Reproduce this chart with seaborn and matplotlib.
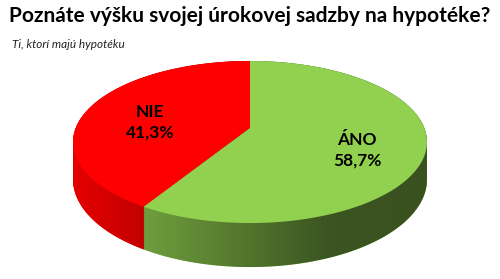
import numpy as np
import matplotlib
matplotlib.use("Agg")
import matplotlib.pyplot as plt
import matplotlib.transforms as mtransforms
import seaborn as sns
from matplotlib.path import Path
from matplotlib.patches import PathPatch

# ---- data ----
categories = ["NIE", "ÁNO"]
values = [41.3, 58.7]
value_labels = ["41,3%", "58,7%"]
title = "Poznáte výšku svojej úrokovej sadzby na hypotéke?"
subtitle = "Ti, ktorí majú hypotéku"

# ---- style ----
sns.set_theme(style="white")
plt.rcParams["font.family"] = ["Lato", "DejaVu Sans"]
top_colors = ["#FF0000", "#92D050"]

W, H = 500, 279
fig = plt.figure(figsize=(W / 100, H / 100), dpi=100)
ax = fig.add_axes([0, 0, 1, 1])

# perspective view of the disc (pixel units, y up)
CX, CY = 250.0, H - 128.0
A, B, K, DZ = 174.3, 78.6, 0.173, 36.4


class Persp(mtransforms.Transform):
    """Tilted-disc perspective: unit circle -> 3D-looking ellipse."""
    input_dims = output_dims = 2
    is_separable = False
    has_inverse = False

    def __init__(self, t=0.0):
        super().__init__()
        self.t = t

    def transform_non_affine(self, xy):
        xy = np.asarray(xy, dtype=float)
        u, v = xy[:, 0], xy[:, 1]
        w = 1.0 + K * v
        x = CX + A * u / w
        y = CY + B * v / w - self.t * DZ / w
        return np.column_stack([x, y])

    def transform_path_non_affine(self, path):
        pts = []
        for seg, code in path.iter_bezier():
            if seg.degree < 1:
                pts.append(np.asarray(seg.control_points))
            elif seg.degree == 1:
                pts.append(np.asarray(seg.control_points)[1:])
            else:
                pts.append(seg(np.linspace(0, 1, 24))[1:])
        pts = np.vstack(pts)
        pts = np.vstack([pts, pts[:1]])
        return Path(self.transform_non_affine(pts), closed=True)


# side of the cylinder (stacked layers, bottom first)
n_layers = 80
for t in np.linspace(1.0, 0.0, n_layers):
    wedges, _ = ax.pie(values, colors=top_colors, startangle=90,
                       counterclock=True, radius=1.0,
                       wedgeprops=dict(linewidth=0, edgecolor="none"))
    for wd in wedges:
        wd.set_transform(Persp(t) + ax.transData)
        wd.set_zorder(1)

# shading gradient on the side
xs = np.linspace(0, W, 500)
alpha = np.interp(xs, [0, 80, 330, 500], [0.08, 0.12, 0.60, 0.62])
rgba = np.zeros((1, len(xs), 4))
rgba[..., 3] = alpha
phi = np.arcsin(K)
th_up = np.linspace(-phi, np.pi + phi, 300)
th_dn = np.linspace(np.pi + phi, 2 * np.pi - phi, 300)
up = Persp(0.0).transform_non_affine(np.column_stack([np.cos(th_up), np.sin(th_up)]))
dn = Persp(1.0).transform_non_affine(np.column_stack([np.cos(th_dn), np.sin(th_dn)]))
outline = np.vstack([up, dn, up[:1]])
clip = PathPatch(Path(outline, closed=True), transform=ax.transData,
                 facecolor="none", edgecolor="none")
im = ax.imshow(rgba, extent=(0, W, 0, H), aspect="auto",
               interpolation="bilinear", zorder=2)
im.set_clip_path(clip)

# top face
wedges, _ = ax.pie(values, colors=top_colors, startangle=90, counterclock=True,
                   radius=1.0, wedgeprops=dict(linewidth=0, edgecolor="none"))
for wd in wedges:
    wd.set_transform(Persp(0.0) + ax.transData)
    wd.set_zorder(3)

ax.set_aspect("auto")
ax.set_xlim(0, W)
ax.set_ylim(0, H)
ax.axis("off")


def fx(px):
    return px / W


def fy(py):
    return 1 - py / H


fig.text(fx(250), fy(16), title, ha="center", va="center",
         fontsize=15, fontweight="bold", color="black")
fig.text(fx(12), fy(45), subtitle, ha="left", va="center",
         fontsize=8.5, style="italic", color="#222222")

label_pos = [(150, 112, 133), (357, 140, 161)]
for cat, vl, (px, py1, py2) in zip(categories, value_labels, label_pos):
    fig.text(fx(px), fy(py1), cat, ha="center", va="center",
             fontsize=12.5, fontweight="bold", color="black", zorder=5)
    fig.text(fx(px), fy(py2), vl, ha="center", va="center",
             fontsize=12.5, fontweight="bold", color="black", zorder=5)

fig.savefig("out.png", dpi=100)
